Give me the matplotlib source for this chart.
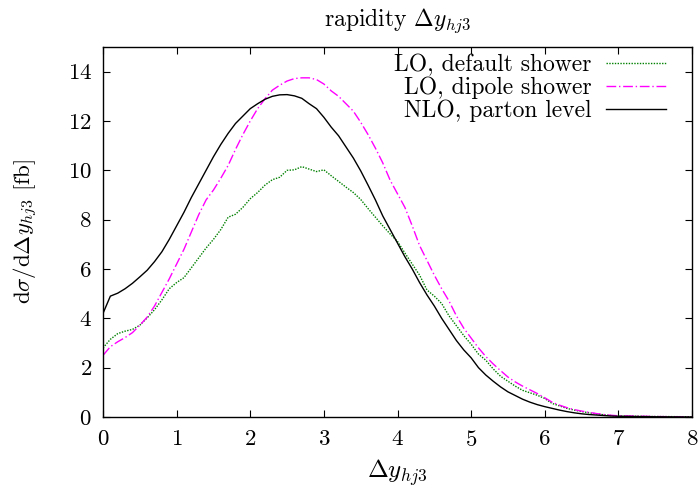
import matplotlib
matplotlib.use("Agg")
import matplotlib.pyplot as plt

plt.rcParams["font.family"] = "serif"
plt.rcParams["font.serif"] = ["cmr10", "DejaVu Serif"]
plt.rcParams["mathtext.fontset"] = "cm"
plt.rcParams["axes.formatter.use_mathtext"] = True

# rapidity grid (bin centres)
dy = [0.0, 0.1, 0.2, 0.3, 0.4, 0.5, 0.6, 0.7, 0.8, 0.9,
      1.0, 1.1, 1.2, 1.3, 1.4, 1.5, 1.6, 1.7, 1.8, 1.9,
      2.0, 2.1, 2.2, 2.3, 2.4, 2.5, 2.6, 2.7, 2.8, 2.9,
      3.0, 3.1, 3.2, 3.3, 3.4, 3.5, 3.6, 3.7, 3.8, 3.9,
      4.0, 4.1, 4.2, 4.3, 4.4, 4.5, 4.6, 4.7, 4.8, 4.9,
      5.0, 5.1, 5.2, 5.3, 5.4, 5.5, 5.6, 5.7, 5.8, 5.9,
      6.0, 6.1, 6.2, 6.3, 6.4, 6.5, 6.6, 6.7, 6.8, 6.9,
      7.0, 7.5, 8.0]

lo_default = [2.8, 3.15, 3.38, 3.48, 3.55, 3.72, 4.02, 4.35, 4.75, 5.2,
              5.45, 5.65, 6.05, 6.45, 6.85, 7.2, 7.6, 8.1, 8.22, 8.5,
              8.85, 9.1, 9.4, 9.62, 9.72, 10.0, 10.02, 10.15, 10.05, 9.95,
              10.02, 9.78, 9.55, 9.32, 9.1, 8.82, 8.45, 8.1, 7.75, 7.42,
              7.12, 6.65, 6.2, 5.75, 5.15, 4.9, 4.6, 4.1, 3.7, 3.3,
              2.95, 2.55, 2.3, 1.95, 1.65, 1.45, 1.25, 1.08, 0.98, 0.88,
              0.75, 0.55, 0.45, 0.35, 0.28, 0.22, 0.17, 0.13, 0.09, 0.06,
              0.04, 0.02, 0.01]

lo_dipole = [2.5, 2.85, 3.05, 3.22, 3.42, 3.72, 4.05, 4.5, 5.05, 5.6,
             6.2, 6.8, 7.5, 8.2, 8.8, 9.2, 9.68, 10.2, 10.85, 11.45,
             12.0, 12.5, 12.9, 13.25, 13.45, 13.62, 13.72, 13.75, 13.75, 13.68,
             13.5, 13.22, 13.0, 12.7, 12.4, 11.95, 11.45, 10.9, 10.3, 9.6,
             9.05, 8.5, 7.75, 6.95, 6.35, 5.75, 5.2, 4.7, 4.1, 3.6,
             3.2, 2.8, 2.45, 2.15, 1.88, 1.62, 1.42, 1.25, 1.1, 0.95,
             0.78, 0.6, 0.48, 0.38, 0.3, 0.24, 0.19, 0.14, 0.1, 0.07,
             0.05, 0.02, 0.0]

nlo_parton = [4.2, 4.9, 5.02, 5.2, 5.42, 5.68, 5.95, 6.3, 6.7, 7.2,
              7.75, 8.3, 8.9, 9.45, 10.0, 10.55, 11.05, 11.5, 11.9, 12.2,
              12.5, 12.7, 12.88, 13.0, 13.06, 13.07, 13.02, 12.92, 12.7, 12.5,
              12.15, 11.75, 11.4, 10.95, 10.5, 9.98, 9.4, 8.8, 8.15, 7.6,
              7.05, 6.5, 6.0, 5.45, 4.95, 4.5, 4.0, 3.55, 3.1, 2.72,
              2.4, 2.0, 1.7, 1.45, 1.22, 1.02, 0.87, 0.72, 0.6, 0.5,
              0.42, 0.35, 0.28, 0.22, 0.17, 0.13, 0.1, 0.08, 0.06, 0.04,
              0.03, 0.01, 0.0]

labels = ["LO, default shower", "LO, dipole shower", "NLO, parton level"]
xticks = [0, 1, 2, 3, 4, 5, 6, 7, 8]
yticks = [0, 2, 4, 6, 8, 10, 12, 14]

fig = plt.figure(figsize=(6.99, 4.90), dpi=100)
ax = fig.add_axes([103 / 699, 1 - 417 / 490, 589 / 699, 370 / 490])

ax.plot(dy, lo_default, color="#008000", lw=1.0, linestyle=(0, (1, 1)),
        label=labels[0])
ax.plot(dy, lo_dipole, color="#ff00ff", lw=1.0, linestyle=(0, (7, 2, 1, 2)),
        label=labels[1])
ax.plot(dy, nlo_parton, color="black", lw=1.0, label=labels[2])

ax.set_xlim(0, 8)
ax.set_ylim(0, 15)
ax.set_xticks(xticks)
ax.set_yticks(yticks)
ax.tick_params(direction="in", top=True, right=True, length=5, width=0.8,
               labelsize=16.5)
ax.tick_params(axis="x", pad=9)
ax.tick_params(axis="y", pad=8)
for sp in ax.spines.values():
    sp.set_linewidth(1.0)

ax.set_title(r"rapidity $\Delta y_{hj3}$", fontsize=17, pad=15)
ax.set_xlabel(r"$\Delta y_{hj3}$", fontsize=18)
ax.set_ylabel(r"$\mathrm{d}\sigma/\mathrm{d}\Delta y_{hj3}$ [fb]", fontsize=16.5)
ax.xaxis.set_label_coords(0.5, -0.108)
ax.yaxis.set_label_coords(-0.107, 0.5)

leg = ax.legend(loc="upper right", frameon=False, markerfirst=False,
                fontsize=17, handlelength=2.55, handletextpad=0.6,
                labelspacing=0.02, borderaxespad=0.0, borderpad=0.0,
                bbox_to_anchor=(0.956, 0.982))
for col in leg._legend_handle_box.get_children():
    col.align = "right"

fig.savefig("out.png", dpi=100)
